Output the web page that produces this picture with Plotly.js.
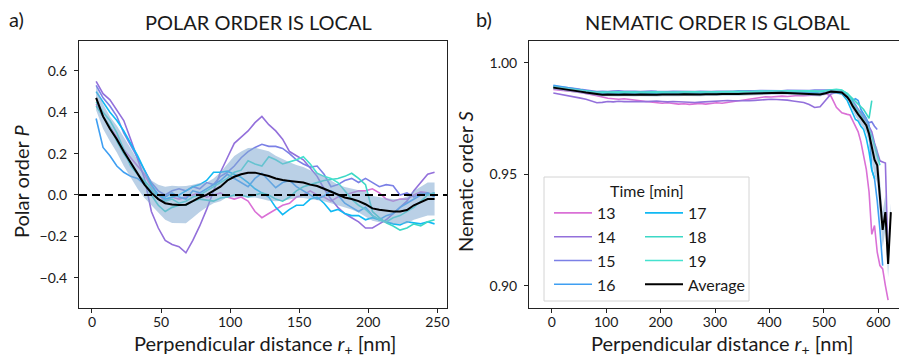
<!DOCTYPE html>
<html><head><meta charset="utf-8">
<script src="https://cdn.plot.ly/plotly-3.0.1.min.js"></script>
<style>html,body{margin:0;padding:0;background:#fff}#chart{width:899px;height:361px}</style>
</head><body><div id="chart"></div>
<script>
// ---------- Panel a: polar order ----------
const xP = [3,8,13,18,23,28,33,38,43,48,53,58,63,68,73,78,83,88,93,98,103,108,113,118,123,128,133,138,143,148,153,158,163,168,173,178,183,188,193,198,203,208,213,218,223,228,233,238,243,248];
const p13 = [0.44,0.38,0.33,0.28,0.22,0.18,0.14,0.10,0.04,0.0,-0.03,-0.01,-0.02,-0.01,0.0,0.01,-0.01,0.0,0.01,-0.01,-0.02,-0.01,-0.03,-0.08,-0.11,-0.09,-0.07,-0.05,-0.04,-0.01,0.0,0.02,0.0,-0.01,-0.03,-0.01,0.0,0.01,0.02,0.02,0.03,0.01,-0.02,-0.03,-0.02,-0.02,0.0,0.015,0.01,0.0];
const p14 = [0.55,0.49,0.46,0.41,0.36,0.27,0.17,0.08,-0.08,-0.16,-0.22,-0.24,-0.25,-0.28,-0.22,-0.15,-0.07,0.02,0.11,0.18,0.25,0.28,0.31,0.35,0.38,0.34,0.31,0.27,0.21,0.19,0.17,0.13,0.09,0.03,-0.02,-0.06,-0.09,-0.11,-0.13,-0.16,-0.16,-0.14,-0.12,-0.09,-0.06,-0.03,0.02,0.06,0.10,0.11];
const p15 = [0.53,0.47,0.43,0.38,0.30,0.24,0.18,0.12,0.06,0.02,0.0,0.02,0.03,0.02,0.04,0.03,0.06,0.05,0.09,0.11,0.14,0.18,0.21,0.23,0.245,0.235,0.235,0.225,0.20,0.17,0.15,0.135,0.14,0.10,0.04,0.05,0.07,0.08,0.06,0.08,0.06,0.04,0.05,0.045,0.0,0.01,-0.01,0.01,0.0,0.01];
const p16 = [0.37,0.23,0.19,0.14,0.11,0.09,0.08,0.05,0.02,0.0,-0.01,0.01,-0.01,-0.02,0.02,0.01,0.03,0.05,0.07,0.10,0.08,0.06,0.04,0.08,0.105,0.07,0.035,0.06,0.07,0.04,0.02,0.0,-0.02,-0.005,0.02,0.0,-0.04,-0.06,-0.08,-0.06,-0.10,-0.12,-0.10,-0.09,-0.06,-0.04,-0.02,0.0,0.01,-0.01];
const p17 = [0.50,0.45,0.40,0.36,0.31,0.25,0.19,0.12,0.05,0.0,-0.02,-0.01,0.0,0.02,0.04,0.05,0.07,0.11,0.11,0.115,0.10,0.085,0.06,0.03,0.01,-0.01,-0.06,-0.095,-0.07,-0.05,-0.05,-0.02,-0.01,-0.04,-0.08,-0.07,-0.09,-0.10,-0.10,-0.12,-0.11,-0.12,-0.13,-0.14,-0.145,-0.13,-0.135,-0.14,-0.13,-0.14];
const p18 = [0.43,0.38,0.33,0.26,0.20,0.15,0.10,0.06,0.0,-0.05,-0.08,-0.06,-0.05,-0.05,-0.03,-0.02,-0.025,-0.03,-0.015,-0.01,0.0,0.0,-0.01,0.0,0.01,0.0,-0.02,-0.03,-0.01,0.02,0.04,0.05,0.06,0.07,0.075,0.08,0.09,0.105,0.08,0.05,-0.08,-0.11,-0.135,-0.15,-0.17,-0.16,-0.14,-0.15,-0.13,-0.12];
const p19 = [0.45,0.40,0.36,0.30,0.22,0.14,0.10,0.07,0.03,-0.02,-0.03,-0.02,-0.04,-0.03,-0.01,0.0,0.02,0.04,0.06,0.08,0.11,0.12,0.165,0.15,0.14,0.185,0.17,0.15,0.16,0.17,0.185,0.15,0.105,0.09,0.08,0.06,0.02,-0.02,-0.05,-0.07,-0.10,-0.12,-0.13,-0.11,-0.10,-0.08,-0.06,-0.03,0.0,0.01];
const pAvg = [0.47,0.38,0.32,0.27,0.21,0.155,0.10,0.05,0.01,-0.02,-0.04,-0.046,-0.048,-0.047,-0.03,-0.012,0.0,0.02,0.04,0.07,0.088,0.10,0.107,0.108,0.10,0.092,0.08,0.072,0.068,0.065,0.06,0.05,0.043,0.03,0.015,0.0,-0.012,-0.02,-0.03,-0.045,-0.065,-0.072,-0.076,-0.08,-0.08,-0.073,-0.05,-0.035,-0.02,-0.02];
const pSpread = [0.06,0.06,0.06,0.065,0.07,0.07,0.07,0.065,0.06,0.07,0.08,0.09,0.09,0.09,0.08,0.07,0.06,0.06,0.07,0.08,0.10,0.11,0.12,0.12,0.12,0.12,0.11,0.10,0.09,0.08,0.075,0.07,0.065,0.06,0.055,0.05,0.05,0.05,0.055,0.06,0.06,0.06,0.06,0.06,0.06,0.065,0.07,0.075,0.08,0.08];

// ---------- Panel b: nematic order ----------
const xS = [3,13,23,33,43,53,63,73,83,93,103,113,123,133,143,153,163,173,183,193,203,213,223,233,243,253,263,273,283,293,303,313,323,333,343,353,363,373,383,393,403,413,423,433,443,453,463,473,483,493,503,513,523,533,543,
  548,553,558,563,568,573,578,583,588,593,598,603,608,613,618,623];
const s13 = [.9880,.9878,.9876,.9873,.9870,.9866,.9862,.9858,.9852,.9846,
  .9840,.9838,.9836,.9838,.9834,.9832,.9829,.9826,.9823,.9821,
  .9818,.9820,.9816,.9814,.9816,.9813,.9815,.9817,.9814,.9818,
  .9820,.9818,.9822,.9825,.9828,.9832,.9836,.9840,.9843,.9847,
  .9846,.9849,.9850,.9848,.9851,.9853,.9852,.9854,.9853,.9856,
  .9862,.9850,.9800,.9775,.9768,
  .9765,.9740,.9715,.9690,.9645,.9590,.9520,.9420,.9230,.9270,.9150,.9090,.9075,.9000,.8935,null];
const s14 = [.9864,.9860,.9855,.9850,.9846,.9841,.9836,.9828,.9820,.9822,
  .9826,.9824,.9827,.9825,.9826,.9828,.9826,.9825,.9827,.9828,
  .9826,.9824,.9826,.9824,.9822,.9820,.9821,.9823,.9825,.9824,
  .9826,.9828,.9830,.9829,.9828,.9827,.9829,.9831,.9833,.9834,
  .9836,.9835,.9834,.9832,.9828,.9824,.9821,.9812,.9799,.9802,
  .9830,.9860,.9866,.9862,.9848,
  .9836,.9820,.9805,.9790,.9772,.9755,.9738,.9715,.9690,.9640,.9600,.9560,.9555,.9550,.9120,null];
const s15 = [.9895,.9893,.9890,.9887,.9884,.9880,.9876,.9873,.9870,.9872,
  .9870,.9873,.9874,.9871,.9873,.9872,.9870,.9872,.9873,.9871,
  .9869,.9870,.9872,.9871,.9873,.9872,.9870,.9871,.9869,.9870,
  .9872,.9871,.9873,.9872,.9874,.9873,.9872,.9874,.9875,.9874,
  .9873,.9875,.9874,.9876,.9875,.9876,.9874,.9875,.9877,.9876,
  .9875,.9877,.9878,.9874,.9860,
  .9845,.9830,.9812,.9790,.9778,.9760,.9742,.9730,.9735,.9715,.9700,null,null,null,null,null];
const s16 = [.9898,.9894,.9889,.9885,.9880,.9877,.9873,.9869,.9866,.9864,
  .9865,.9863,.9865,.9864,.9862,.9864,.9865,.9863,.9864,.9865,
  .9863,.9864,.9866,.9865,.9864,.9866,.9865,.9864,.9866,.9867,
  .9866,.9865,.9867,.9866,.9868,.9867,.9869,.9870,.9871,.9870,
  .9871,.9869,.9870,.9868,.9869,.9867,.9868,.9866,.9867,.9863,
  .9866,.9874,.9873,.9871,.9858,
  .9845,.9832,.9838,.9830,.9790,.9770,.9750,.9720,.9520,.9480,.9380,.9250,.9090,null,null,null];
const s17 = [.9890,.9887,.9884,.9880,.9876,.9872,.9868,.9865,.9862,.9861,
  .9862,.9860,.9861,.9862,.9860,.9861,.9862,.9861,.9860,.9861,
  .9862,.9861,.9860,.9862,.9861,.9860,.9862,.9861,.9862,.9863,
  .9862,.9861,.9863,.9862,.9863,.9864,.9865,.9866,.9867,.9866,
  .9867,.9866,.9867,.9865,.9866,.9864,.9865,.9864,.9862,.9860,
  .9864,.9868,.9865,.9860,.9830,
  .9800,.9775,.9745,.9738,.9715,.9700,.9660,.9600,.9520,.9480,null,null,null,null,null,null];
const s18 = [.9892,.9889,.9886,.9882,.9879,.9875,.9872,.9869,.9867,.9868,
  .9866,.9867,.9868,.9866,.9867,.9868,.9866,.9867,.9868,.9867,
  .9866,.9868,.9867,.9866,.9868,.9867,.9866,.9867,.9868,.9867,
  .9868,.9867,.9869,.9868,.9869,.9868,.9869,.9870,.9869,.9870,
  .9871,.9870,.9871,.9872,.9871,.9872,.9873,.9872,.9871,.9870,
  .9873,.9877,.9878,.9875,.9862,
  .9850,.9838,.9825,.9812,.9800,.9790,.9770,.9750,.9830,null,null,null,null,null,null,null];
const s19 = [.9889,.9887,.9884,.9881,.9878,.9875,.9871,.9868,.9865,.9866,
  .9867,.9865,.9866,.9867,.9868,.9866,.9867,.9868,.9866,.9867,
  .9868,.9867,.9868,.9869,.9867,.9868,.9869,.9868,.9867,.9868,
  .9869,.9870,.9868,.9869,.9870,.9871,.9870,.9872,.9873,.9872,
  .9873,.9872,.9874,.9873,.9874,.9873,.9875,.9874,.9873,.9872,
  .9875,.9879,.9880,.9877,.9860,
  .9842,.9820,.9800,.9782,.9765,.9745,.9725,.9700,.9670,.9630,.9580,.9540,null,null,null,null];
const sAvg = [.9888,.9885,.9881,.9878,.9874,.9870,.9866,.9862,.9857,.9856,
  .9857,.9855,.9856,.9857,.9855,.9856,.9857,.9856,.9855,.9856,
  .9857,.9856,.9855,.9857,.9858,.9857,.9856,.9857,.9858,.9857,
  .9858,.9859,.9858,.9858,.9859,.9860,.9861,.9863,.9864,.9865,
  .9865,.9864,.9865,.9864,.9863,.9862,.9862,.9861,.9860,.9857,
  .9863,.9870,.9868,.9866,.9845,
  .9828,.9805,.9785,.9768,.9752,.9737,.9718,.9680,.9620,.9565,.9540,.9390,.9250,.9330,.9097,.9330];
const sSpread = [.0008,.0008,.0008,.0008,.0008,.0008,.0008,.0008,.0008,.0008,
  .0008,.0008,.0008,.0008,.0008,.0008,.0008,.0008,.0008,.0008,
  .0008,.0008,.0008,.0008,.0008,.0008,.0008,.0008,.0008,.0008,
  .0008,.0008,.0008,.0008,.0008,.0008,.0008,.0008,.0008,.0008,
  .0008,.0008,.0008,.0008,.0008,.0008,.0008,.0009,.0009,.0009,
  .0008,.0008,.0009,.0009,.0010,
  .0015,.0020,.0025,.0030,.0030,.0030,.0035,.0040,.0060,.0070,.0080,.0090,.0080,.0080,.0060,.0040];

const seriesNames = ['13','14','15','16','17','18','19'];
const seriesColors = ['#da70d6','#9370db','#7b80e6','#3f9ff2','#10b9f3','#3cd8c6','#45e2cf'];
const polarSeries = [p13,p14,p15,p16,p17,p18,p19];
const nematicSeries = [s13,s14,s15,s16,s17,s18,s19];
const bandColor = 'rgba(130,170,210,0.55)';

const traces = [];
// Panel a
polarSeries.forEach((ys,i)=>{
  traces.push({x:xP,y:ys,type:'scatter',mode:'lines',line:{color:seriesColors[i],width:1.6},showlegend:false,xaxis:'x',yaxis:'y',hoverinfo:'skip'});
});
traces.push({x:xP,y:pAvg.map((v,i)=>v-pSpread[i]),type:'scatter',mode:'lines',line:{width:0,color:bandColor},showlegend:false,xaxis:'x',yaxis:'y',hoverinfo:'skip'});
traces.push({x:xP,y:pAvg.map((v,i)=>v+pSpread[i]),type:'scatter',mode:'lines',line:{width:0,color:bandColor},fill:'tonexty',fillcolor:bandColor,showlegend:false,xaxis:'x',yaxis:'y',hoverinfo:'skip'});
traces.push({x:xP,y:pAvg,type:'scatter',mode:'lines',line:{color:'#000',width:2},showlegend:false,xaxis:'x',yaxis:'y'});

// Panel b
nematicSeries.forEach((ys,i)=>{
  traces.push({x:xS,y:ys,type:'scatter',mode:'lines',name:seriesNames[i],line:{color:seriesColors[i],width:1.6},
    legend: i<4 ? 'legend' : 'legend2', xaxis:'x2',yaxis:'y2',hoverinfo:'skip'});
});
traces.push({x:xS,y:sAvg.map((v,i)=>v-sSpread[i]),type:'scatter',mode:'lines',line:{width:0,color:bandColor},showlegend:false,xaxis:'x2',yaxis:'y2',hoverinfo:'skip'});
traces.push({x:xS,y:sAvg.map((v,i)=>v+sSpread[i]),type:'scatter',mode:'lines',line:{width:0,color:bandColor},fill:'tonexty',fillcolor:bandColor,showlegend:false,xaxis:'x2',yaxis:'y2',hoverinfo:'skip'});
traces.push({x:xS,y:sAvg,type:'scatter',mode:'lines',name:'Average',line:{color:'#000',width:2},legend:'legend2',xaxis:'x2',yaxis:'y2'});

const W=899,H=361;
const fx=p=>p/W, fy=p=>1-p/H;
const FONT='Lato, "Open Sans", sans-serif';
const TXT='#1a1a1a';
const axCommon={showline:true,linecolor:'#222',linewidth:1,ticks:'outside',ticklen:4,tickwidth:1,tickcolor:'#222',
  showgrid:false,zeroline:false,tickfont:{size:14,color:TXT,family:FONT}};

function ann(text,px,py,size,extra){return Object.assign({text:text,xref:'paper',yref:'paper',x:fx(px),y:fy(py),
  xanchor:'center',yanchor:'middle',showarrow:false,font:{size:size,color:TXT,family:FONT}},extra||{});}

const legCommon={xanchor:'left',yanchor:'top',bgcolor:'rgba(0,0,0,0)',borderwidth:0,font:{size:16,color:TXT,family:FONT},itemwidth:38,tracegroupgap:0,traceorder:'normal'};

const layout={
  width:W,height:H,margin:{l:0,r:0,t:0,b:0},paper_bgcolor:'#fff',plot_bgcolor:'#fff',
  font:{family:FONT,color:TXT},
  xaxis:Object.assign({},axCommon,{domain:[fx(79),fx(447)],range:[-9.4,257],tickvals:[0,50,100,150,200,250],mirror:true,anchor:'y',ticklabelstandoff:-3}),
  yaxis:Object.assign({},axCommon,{domain:[fy(308),fy(41)],range:[-0.547,0.745],tickvals:[-0.4,-0.2,0,0.2,0.4,0.6],tickformat:'.1f',mirror:true,anchor:'x',ticklabelstandoff:4}),
  xaxis2:Object.assign({},axCommon,{domain:[fx(529),1],range:[-41.7,638],tickvals:[0,100,200,300,400,500,600],mirror:true,anchor:'y2',ticklabelstandoff:-3}),
  yaxis2:Object.assign({},axCommon,{domain:[fy(308),fy(41)],range:[0.890,1.0097],tickvals:[0.90,0.95,1.00],tickformat:'.2f',mirror:false,anchor:'x2',ticklabelstandoff:4}),
  shapes:[
    {type:'line',xref:'x domain',yref:'y',x0:0,x1:1,y0:0,y1:0,line:{color:'#000',width:2,dash:'8px,5px'},layer:'above'},
    {type:'rect',xref:'paper',yref:'paper',x0:fx(544),x1:fx(749),y0:fy(301),y1:fy(177),line:{color:'#d4d4d4',width:1},fillcolor:'rgba(255,255,255,0.9)',layer:'above'}
  ],
  legend:Object.assign({},legCommon,{x:fx(549),y:fy(196)}),
  legend2:Object.assign({},legCommon,{x:fx(640),y:fy(196)}),
  annotations:[
    ann('a)',16,19,20),
    ann('POLAR ORDER IS LOCAL',258,22,20),
    ann('b)',484,19,20),
    ann('NEMATIC ORDER IS GLOBAL',717,22,20),
    ann('Perpendicular distance <i>r</i><sub>+</sub> [nm]',265,344,20),
    ann('Perpendicular distance <i>r</i><sub>+</sub> [nm]',722,344,20),
    ann('Polar order <i>P</i>',21,182,20,{textangle:-90}),
    ann('Nematic order <i>S</i>',465,182,20,{textangle:-90}),
    ann('Time [min]',646.5,190,16)
  ]
};
Plotly.newPlot('chart',traces,layout,{displayModeBar:false,staticPlot:true});
</script></body></html>
